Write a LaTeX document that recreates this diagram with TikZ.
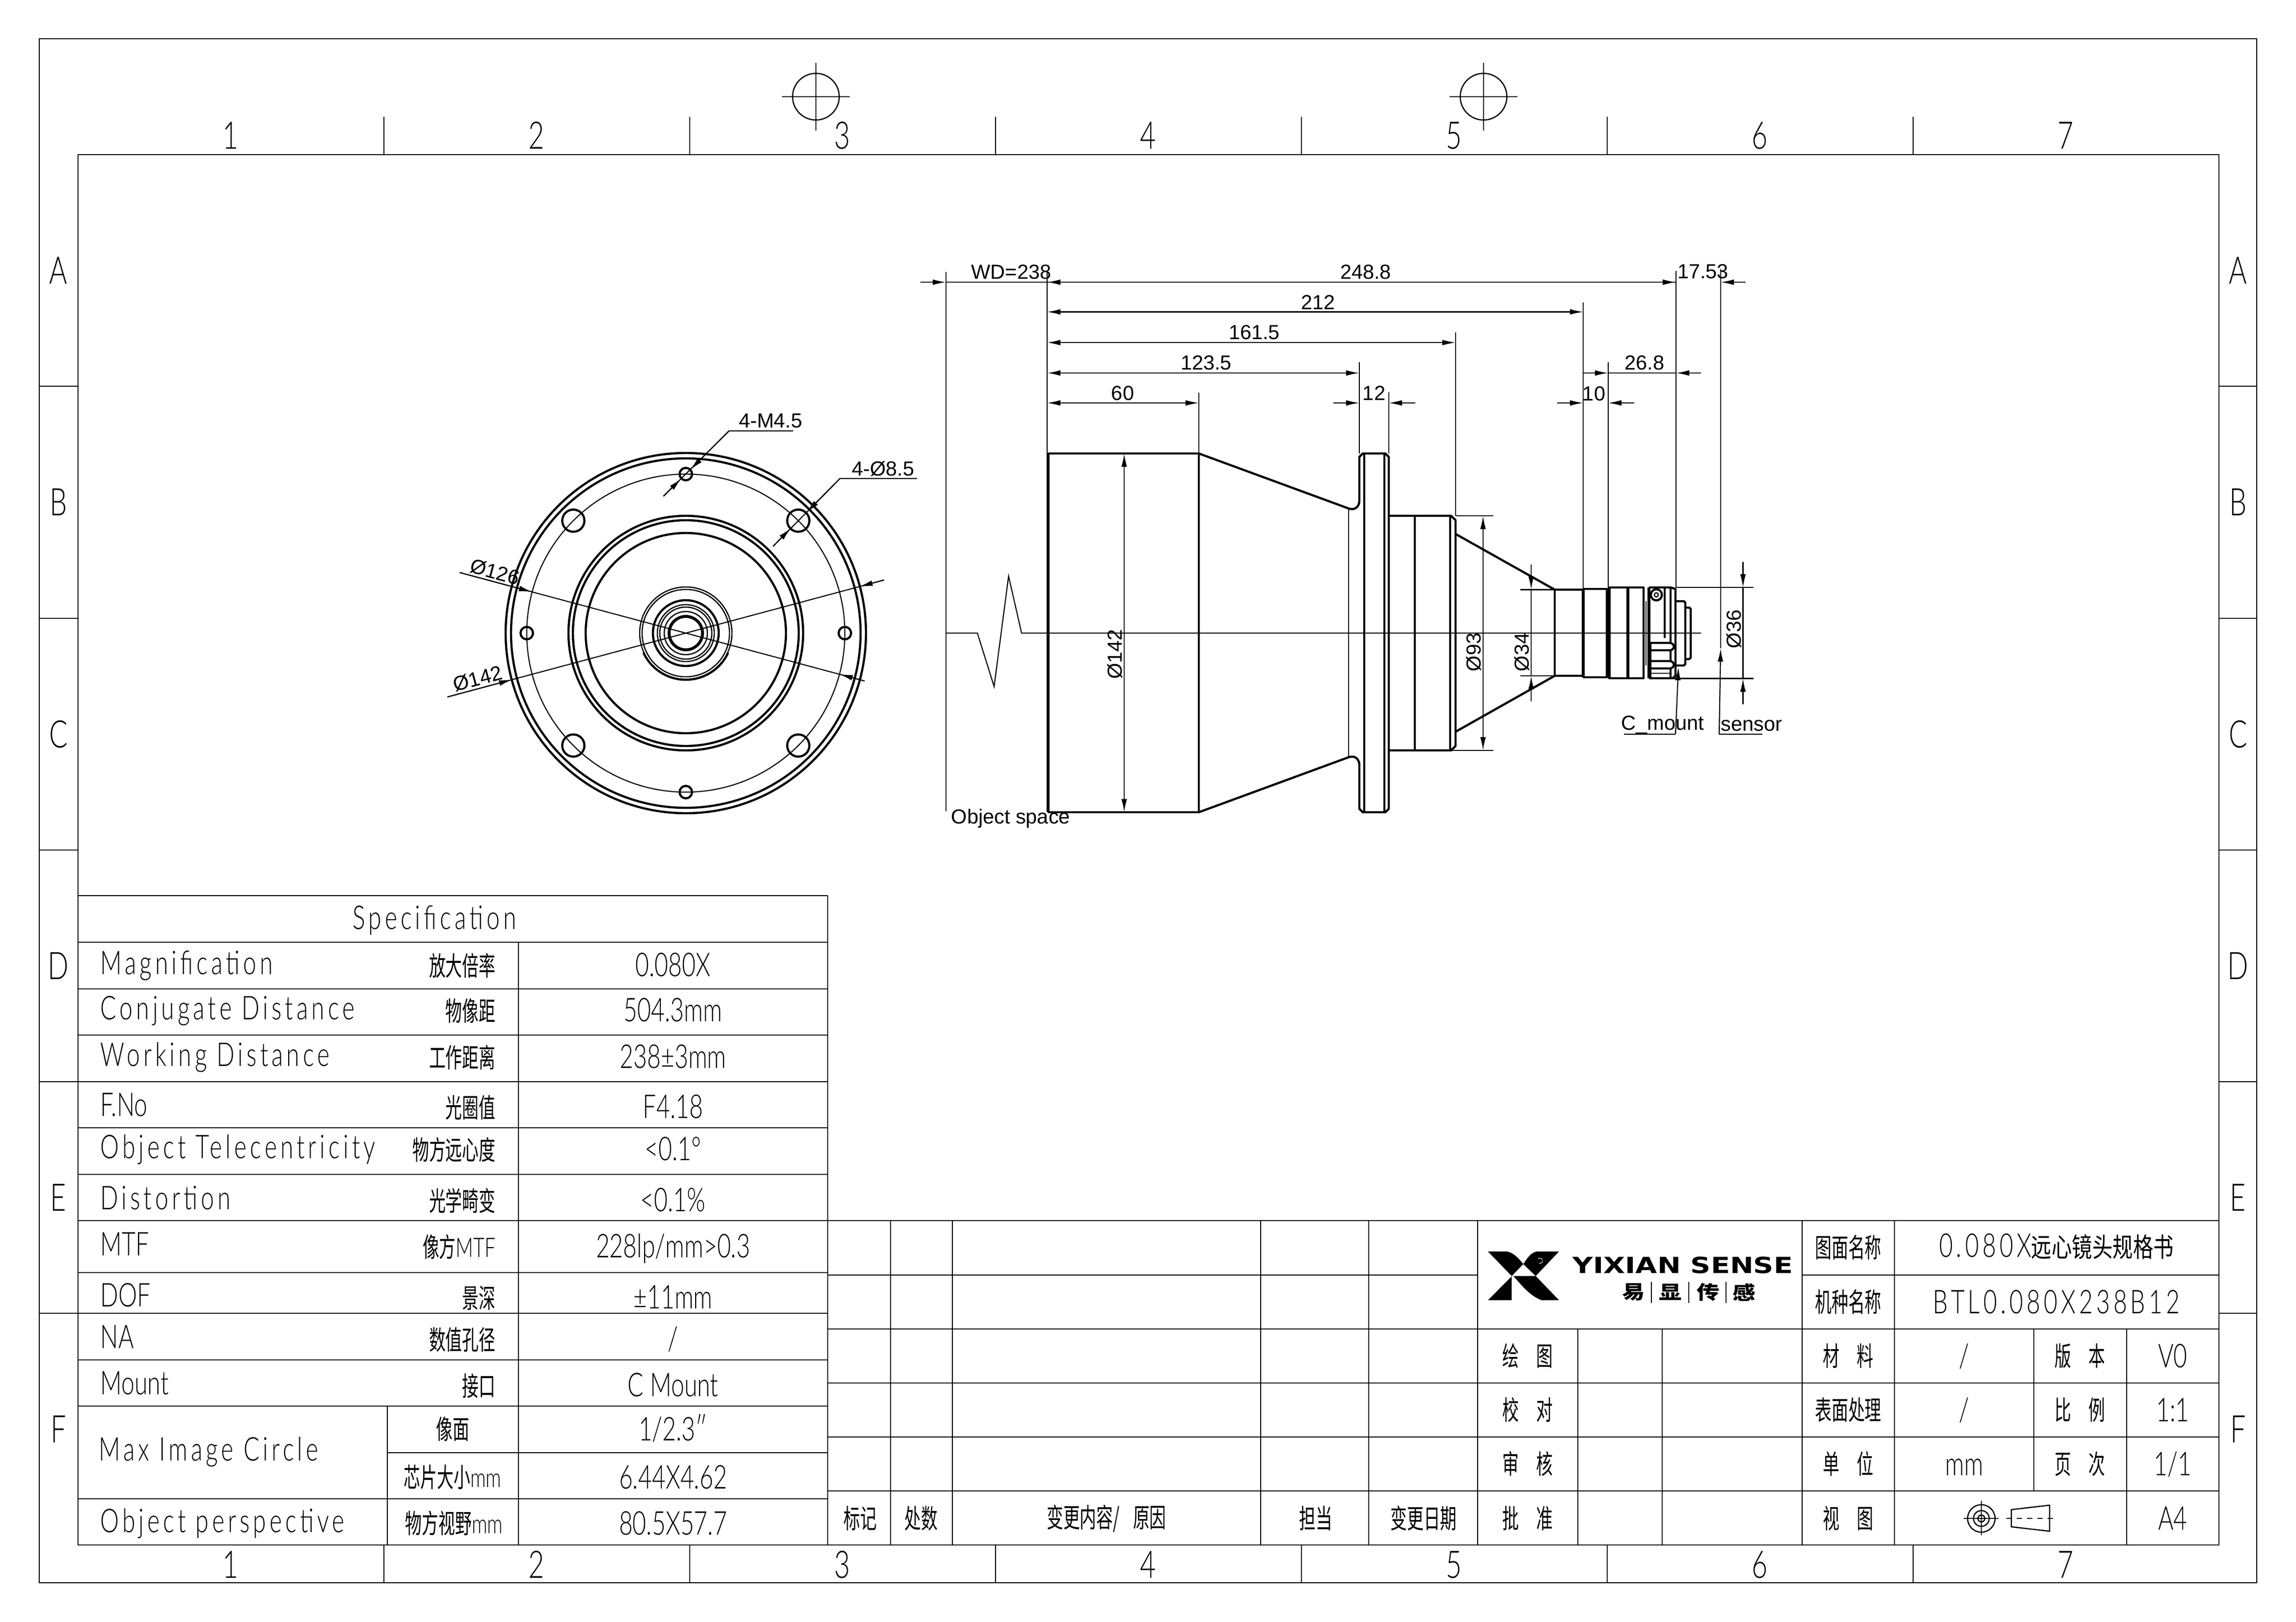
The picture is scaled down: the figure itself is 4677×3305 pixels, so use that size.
\documentclass[tikz,border=0pt]{standalone}
\usepackage{fontspec}
\usetikzlibrary{calc,arrows.meta}
\setmainfont{Liberation Sans}
\newfontfamily\cadfont[FakeStretch=.72,UprightFont={* Light}]{Lato}
\newfontfamily\cadwide[FakeStretch=.72,LetterSpace=10.5,UprightFont={* Light}]{Lato}
\newfontfamily\cnfont[FakeStretch=.62]{Noto Sans CJK SC}
\newfontfamily\cnwide[FakeStretch=.76]{Noto Sans CJK SC}
\newfontfamily\logofont[FakeStretch=1.26]{DejaVu Sans}
\newfontfamily\logocn[FakeStretch=1.2]{Noto Sans CJK SC}
\newcommand{\cngap}{\hspace{.65em}}
\tikzset{
	ah/.tip={Latex[length=2.7mm,width=1.15mm]},
	frm/.style={line width=.7pt},
	tbl/.style={line width=.7pt},
	hair/.style={line width=.62pt},
	body/.style={line width=1.25pt,line join=round},
	heavy/.style={line width=1.7pt},
	cad/.style={font=\cadfont\fontsize{19}{19}\selectfont,inner sep=0pt,text height=13.4pt,text depth=0pt},
	cn/.style={font=\cnfont\fontsize{15.5}{16}\selectfont,inner sep=0pt},
	margintxt/.style={font=\cadfont\fontsize{22}{22}\selectfont,inner sep=0pt,text height=15.9pt,text depth=0pt},
	dimtxt/.style={font=\fontsize{11.8}{12}\selectfont,inner sep=0pt}
}
\begin{document}
\begin{tikzpicture}[x=0.01cm,y=-0.01cm]
\useasboundingbox (0,0) rectangle (4677,3305);
\draw[frm] (80,79) rectangle (4597,3225);
\draw[frm] (159,315) rectangle (4520,3148);
\foreach \x in {782,1405,2028,2651,3274,3897}{
	\draw[frm] (\x,238) -- (\x,315);
	\draw[frm] (\x,3148) -- (\x,3225);
	}
\foreach \y in {787,1260,1732,2204,2676}{
	\draw[frm] (80,\y) -- (159,\y);
	\draw[frm] (4520,\y) -- (4597,\y);
	}
\foreach \x/\t [count=\i] in {470/1,1093/2,1716/3,2339/4,2962/5,3585/6,4208/7}{
	\node[margintxt] (top\i) at (\x,276){\t};
	\node[margintxt] (bot\i) at (\x,3188){\t};
	}
\foreach \y/\t [count=\i] in {551/A,1023/B,1496/C,1968/D,2440/E,2912/F}{
	\node[margintxt] (lft\i) at (119,\y){\t};
	\node[margintxt] (rgt\i) at (4559,\y){\t};
	}
\foreach \x in {1662,3022}{
	\draw[tbl] (\x,197) circle[radius=47.5];
	\draw[tbl] (\x-69,197) -- (\x+69,197);
	\draw[tbl] (\x,128) -- (\x,266);
	}
% front view
\coordinate (fc) at (1397,1290);
\foreach \r in {367,356,239,230,204}
	\draw[body] (fc) circle[radius=\r];
\draw[hair] (fc) circle[radius=324];
\foreach \r in {94,89,58,53,44}
	\draw[tbl] (fc) circle[radius=\r];
\draw[body] (fc) circle[radius=67];
\draw[heavy] (fc) circle[radius=34];
\draw[tbl] ($(fc)+(25:96)$) arc[start angle=25,end angle=155,radius=96];
\foreach \a in {0,90,180,270}
	\draw[body] ($(fc)+(\a:324)$) circle[radius=12.7];
\foreach \a in {45,135,225,315}
	\draw[body] ($(fc)+(\a:324)$) circle[radius=22.6];
\draw[hair] ($(fc)+(195:477)$) -- ($(fc)+(15:377)$);
\draw[hair] ($(fc)+(165:503)$) -- ($(fc)+(-15:418)$);
\draw[hair,-ah] ($(fc)+(195:477)$) -- ($(fc)+(195:324)$);
\draw[hair,-ah] ($(fc)+(15:377)$) -- ($(fc)+(15:324)$);
\draw[hair,-ah] ($(fc)+(165:503)$) -- ($(fc)+(165:366)$);
\draw[hair,-ah] ($(fc)+(-15:418)$) -- ($(fc)+(-15:366)$);
\node[dimtxt,rotate=-15] (dia126) at (1008,1165){Ø126};
\node[dimtxt,rotate=15] (dia142) at (973,1383){Ø142};
\coordinate (ma) at (1351.5,1011);
\coordinate (mb) at (1485,878);
\coordinate (mc) at (1615.6,878);
\draw[hair] (ma) -- (mb) -- (mc);
\draw[hair,-ah] (ma) -- (1388,975);
\draw[hair,-ah] (mb) -- (1406,957);
\node[dimtxt] (hole45) at (1570,857){4-M4.5};
\coordinate (pa) at (1575,1113);
\coordinate (pb) at (1711,975);
\coordinate (pc) at (1868,975);
\draw[hair] (pa) -- (pb) -- (pc);
\draw[hair,-ah] (pa) -- (1611,1076);
\draw[hair,-ah] (pb) -- (1643,1044);
\node[dimtxt] (hole85) at (1799,955){4-Ø8.5};
% side view
\draw[hair] (1927,1290) -- (1991,1290) -- (2025,1399) -- (2054.5,1174) -- (2081,1290) -- (3465,1290);
\draw[body] (2136,924) rectangle (2442,1655);
\draw[body] (2442,924) -- (2747,1036) .. controls (2760,1041) and (2769,1032) .. (2769,1020) -- (2769,931) -- (2776,924) -- (2822,924) -- (2829,931) -- (2829,1648) -- (2822,1655) -- (2776,1655) -- (2769,1648) -- (2769,1559) .. controls (2769,1547) and (2760,1538) .. (2747,1543) -- (2442,1655);
\draw[tbl] (2747,1036) -- (2747,1543);
\foreach \x in {2779,2820}
	\draw[body] (\x,924) -- (\x,1655);
\draw[body] (2882,1051) -- (2882,1529);
\draw[body] (2829,1051) -- (2956,1051) -- (2965,1060) -- (2965,1520) -- (2956,1529) -- (2829,1529);
\draw[body] (2954,1051) -- (2954,1529);
\draw[body] (2965,1088) -- (3167,1201.5) -- (3225,1201.5);
\draw[body] (2965,1491) -- (3167,1377) -- (3225,1377);
\draw[body] (3167,1201.5) -- (3167,1377);
\draw[body] (3226,1200) rectangle (3273,1380);
\draw[heavy] (3225,1200) -- (3225,1380);
\draw[heavy] (3278,1197) -- (3278,1382);
\draw[body] (3278,1197) rectangle (3316,1382);
\draw[heavy] (3316,1197) -- (3316,1382);
\draw[body] (3316,1197) rectangle (3348,1382);
\draw[tbl] (3353,1225) -- (3353,1356);
\draw[heavy] (3359,1197) -- (3359,1382);
\draw[body] (3359,1197) -- (3403,1197) (3403,1197) -- (3413,1200) -- (3413,1377) -- (3407,1382) -- (3359,1382);
\draw[body] (3403,1197) -- (3403,1310);
\fill (3374,1212) circle[radius=13.5];
\fill[white] (3374,1212) circle[radius=9];
\fill (3374,1212) circle[radius=5.5];
\fill[white] (3374,1212) circle[radius=2.8];
\draw[body] (3391,1197) -- (3391,1300);
\draw[body] (3362,1310) -- (3403,1310) .. controls (3412,1313) and (3412,1322) .. (3403,1325) -- (3362,1325);
\draw[body] (3362,1347) -- (3403,1347) .. controls (3412,1350) and (3412,1359) .. (3403,1362) -- (3362,1362);
\draw[body] (3403,1325) -- (3403,1347) (3403,1362) -- (3403,1382);
\draw[body] (3362,1310) -- (3362,1382);
\draw[tbl] (3362,1372) -- (3403,1372);
\draw[body] (3413,1225) -- (3430,1225) -- (3433,1228) -- (3433,1353) -- (3430,1356) -- (3413,1356);
\draw[body] (3433,1238) -- (3441,1238) -- (3444,1241) -- (3444,1340) -- (3441,1343) -- (3433,1343);
% dimensions
\foreach \x/\ya/\yb in {1927/554/1653,2133/554/1655,3414/552/1197,3505/548/1321,3225/616/1201,2965/677/1051,2769/738/924,2442/800/924,2829/799/924,3276/738/1197}
	\draw[hair] (\x,\ya) -- (\x,\yb);
\foreach \xa/\xb/\y in {2133/3225/635.5,2133/2965/698,2133/2769/760,2133/2442/821}
	\draw[hair,ah-ah] (\xa,\y) -- (\xb,\y);
\foreach \xa/\xb/\y in {1875/1927/575,3358/3414/575,2716/2769/821,3172/3225/821,3225/3276/760}
	\draw[hair,-ah] (\xa,\y) -- (\xb,\y);
\foreach \xa/\xb/\y in {2190/2133/575,3556/3505/575,2883/2829/821,3329/3276/821,3465/3414/760}
	\draw[hair,-ah] (\xa,\y) -- (\xb,\y);
\draw[hair] (1927,575) -- (3414,575);
\draw[hair] (3276,760) -- (3414,760);
\draw[hair,ah-ah] (2290,924) -- (2290,1655);
\draw[hair,ah-ah] (3021,1051) -- (3021,1529);
\draw[hair,-ah] (3119,1150) -- (3119,1201.5);
\draw[hair,-ah] (3119,1429) -- (3119,1377);
\draw[hair] (3119,1201.5) -- (3119,1377);
\draw[hair,-ah] (3550.5,1145) -- (3550.5,1197);
\draw[hair,-ah] (3550.5,1435) -- (3550.5,1382.5);
\draw[hair] (3550.5,1197) -- (3550.5,1382.5);
\draw[hair] (2965,1051) -- (3042,1051);
\draw[hair] (2957,1529) -- (3042,1529);
\draw[hair] (3097,1201.5) -- (3167,1201.5);
\draw[hair] (3097,1377) -- (3167,1377);
\draw[hair] (3414,1197) -- (3572,1197);
\draw[hair] (3400,1382.5) -- (3572,1382.5);
\foreach \x/\y/\t [count=\i] in {2060/554/WD=238,2782/554/248.8,3469/553/17.53,2685/616/212,2555/677/161.5,2457/739/123.5,2287/801/60,2799/801/12,3247/802/10,3350/739/26.8}
	\node[dimtxt] (len\i) at (\x,\y){\t};
\foreach \x/\y/\t [count=\i] in {2271/1333/Ø142,3002/1329/Ø93,3100/1329/Ø34,3532/1282/Ø36}
	\node[dimtxt,rotate=90] (dia\i) at (\x,\y){\t};
\node[dimtxt,anchor=west] (objsp) at (1937,1668){Object space};
\node[dimtxt] (cmnt) at (3387,1477){C\_mount};
\node[dimtxt] (snsr) at (3568,1479){sensor};
\coordinate (ca) at (3308,1496);
\coordinate (cb) at (3413,1496);
\draw[hair] (ca) -- (cb);
\draw[hair,-ah] (cb) -- (3419,1359);
\coordinate (sa) at (3590,1496);
\coordinate (sb) at (3502,1496);
\draw[hair] (sa) -- (sb);
\draw[hair,-ah] (sb) -- (3505,1321);
% specification table
\foreach \y in {1825,1920,2015,2109,2204,2298,2393,2487,2593,2676,2771,2865,3054}
	\draw[tbl] (159,\y) -- (1686,\y);
\draw[tbl] (789,2960) -- (1686,2960);
\draw[tbl] (1686,1825) -- (1686,3148);
\draw[tbl] (1056,1920) -- (1056,3148);
\draw[tbl] (789,2865) -- (789,3148);
\node[cad] (spec) at (885,1870){\cadwide Specification};
\foreach \y/\a/\b/\c [count=\i] in {1962/\cadwide Magnification/放大倍率/0.080X,2054/\cadwide Conjugate Distance/物像距/504.3mm,2149/\cadwide Working Distance/工作距离/238±3mm,2251/F.No/光圈值/F4.18,2337/\cadwide Object Telecentricity/物方远心度/<0.1°,2441/\cadwide Distortion/光学畸变/<0.1\%,2535/MTF/像方{\cadfont MTF}/228lp\slash mm>0.3,2639/DOF/景深/±11mm,2724/NA/数值孔径/\slash,2818/Mount/接口/C Mount}{
	\node[cad,anchor=west] (rowa\i) at (204,\y){\a};
	\node[cn,anchor=east] (rowb\i) at (1010,\y+6){\b};
	\node[cad] (rowc\i) at (1371,\y+4){\c};
	}
\node[cad,anchor=west] (maxic) at (201,2953){\cadwide Max Image Circle};
\node[cn] (imgpl) at (922,2912){像面};
\node[cad] (imgsz) at (1371,2912){1\slash 2.3″};
\node[cn] (chip) at (922,3010){芯片大小{\cadfont mm}};
\node[cad] (chipv) at (1371,3010){6.44X4.62};
\node[cad,anchor=west] (objp) at (204,3099){\cadwide Object perspective};
\node[cn] (fov) at (925,3104){物方视野{\cadfont mm}};
\node[cad] (fovv) at (1371,3104){80.5X57.7};
% title block
\draw[tbl] (1686,2487) -- (4520,2487);
\foreach \y in {2708,2818,2928,3038}
	\draw[tbl] (1687,\y) -- (4520,\y);
\draw[tbl] (1687,2598) -- (3010,2598);
\draw[tbl] (3671,2598) -- (4520,2598);
\foreach \x in {1814,1940,2568,2788,3010,3671,3859}
	\draw[tbl] (\x,2487) -- (\x,3148);
\foreach \x in {3214,3386,4332}
	\draw[tbl] (\x,2708) -- (\x,3148);
\draw[tbl] (4143,2708) -- (4143,3038);
\foreach \x/\t [count=\i] in {1752/标记,1876/处数,2254/变更内容\slash\hspace{.5em}原因,2680/担当,2900/变更日期}
	\node[cn] (chg\i) at (\x,3094){\t};
\foreach \y/\a/\b [count=\i] in {2763/绘\cngap 图/材\cngap 料,2873/校\cngap 对/表面处理,2983/审\cngap 核/单\cngap 位,3094/批\cngap 准/视\cngap 图}{
	\node[cn] (sgn\i) at (3112,\y){\a};
	\node[cn] (inf\i) at (3765,\y){\b};
	}
\foreach \y/\a/\b/\c [count=\i] in {2763/\slash/版\cngap 本/V0,2873/\slash/比\cngap 例/1:1,2983/mm/页\cngap 次/1\slash 1}{
	\node[cad] (val\i) at (4001,\y){\a};
	\node[cn] (rev\i) at (4237,\y){\b};
	\node[cad] (rvv\i) at (4426,\y){\c};
	}
\node[cad] (size) at (4426,3094){A4};
\node[cn] (dwgname) at (3765,2542){图面名称};
\node[cn] (modname) at (3765,2653){机种名称};
\node[cn,font=\cnwide\fontsize{15.5}{16}\selectfont] (dwgttl) at (4189,2540){{\cadwide\fontsize{19}{19}\selectfont 0.080X}远心镜头规格书};
\node[cad] (modttl) at (4189,2653){\cadwide BTL0.080X238B12};
\draw[tbl] (4036,3094) circle[radius=28];
\draw[tbl] (4036,3094) circle[radius=16];
\draw[tbl] (4036,3094) circle[radius=7];
\draw[tbl] (4000,3094) -- (4071,3094);
\draw[tbl] (4036,3058) -- (4036,3128);
\draw[tbl] (4097,3076) -- (4175,3067) -- (4175,3120) -- (4097,3111) -- cycle;
\draw[tbl,dashed] (4087,3094) -- (4184,3094);
% logo
\fill (3031,2550) -- (3070,2550) .. controls (3083,2553) and (3092,2562) .. (3103,2575.7) -- (3079.3,2600) -- cycle;
\fill (3031,2649.3) -- (3079.3,2649.3) -- (3079.3,2600.7) -- cycle;
\fill (3082.7,2600) -- (3128.3,2600) -- (3175.7,2649.3) -- (3140,2649.3) .. controls (3117,2640) and (3105,2625) .. (3082.7,2600) -- cycle;
\fill (3175.7,2550) -- (3130,2550) .. controls (3118,2553) and (3112,2562) .. (3103,2575.7) -- (3128.3,2600) -- cycle;
\draw[white,line width=.3pt,dashed] (3137,2569) circle[radius=5.5];
\node[inner sep=0pt,font=\logofont\bfseries\fontsize{12.9}{13}\selectfont] (brand) at (3428,2578){YIXIAN SENSE};
\foreach \x/\t [count=\i] in {3328/易,3403/显,3480/传,3553/感}
	\node[inner sep=0pt,font=\logocn\bfseries\fontsize{11}{11}\selectfont] (sense\i) at (\x,2633){\t};
\foreach \x in {3364,3440,3516}
	\draw[hair] (\x,2612) -- (\x,2655);
\end{tikzpicture}
\end{document}
